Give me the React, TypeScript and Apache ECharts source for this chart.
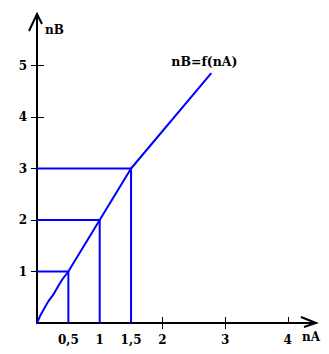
import React, { useEffect, useRef } from "react";
import * as echarts from "echarts";

const xTicks = [0.5, 1, 1.5, 2, 3, 4];
const xTickLabels = ["0,5", "1", "1,5", "2", "3", "4"];
const yTicks = [1, 2, 3, 4, 5];
const curveX = [0, 0.05, 0.12, 0.18, 0.26, 0.33, 0.4, 0.5, 1, 1.5, 2.78];
const curveY = [0, 0.14, 0.29, 0.42, 0.55, 0.7, 0.84, 1, 2, 3, 4.85];
const guidePoints = [
  [0.5, 1],
  [1, 2],
  [1.5, 3],
];
const xMax = 4.45;
const yMax = 6;
const curveName = "nB=f(nA)";

const FONT = "'DejaVu Serif', 'Liberation Serif', serif";
const BLUE = "#0000ff";

export default function App() {
  const ref = useRef<HTMLDivElement>(null);
  useEffect(() => {
    if (!ref.current) return;
    const chart = echarts.init(ref.current, undefined, { renderer: "svg" });
    const guideSeries = guidePoints.map((p) => ({
      type: "line",
      data: [
        [0, p[1]],
        [p[0], p[1]],
        [p[0], 0],
      ],
      symbol: "none",
      lineStyle: { color: BLUE, width: 2 },
      z: 3,
    }));
    chart.setOption({
      animation: false,
      grid: { left: 37, right: 13, top: 14, bottom: 31, containLabel: false },
      xAxis: [
        {
          type: "value",
          min: 0,
          max: xMax,
          splitLine: { show: false },
          axisLine: { show: true, lineStyle: { color: "#000", width: 2 } },
          axisTick: {
            show: true,
            customValues: [2, 3],
            length: 6,
            lineStyle: { color: "#000", width: 1 },
          },
          axisLabel: {
            customValues: xTicks,
            formatter: (v: number) => xTickLabels[xTicks.indexOf(v)] ?? "",
            color: "#000",
            fontFamily: FONT,
            fontWeight: "bold",
            fontSize: 12,
            margin: 11,
          },
          z: 2,
        },
        {
          type: "value",
          min: 0,
          max: xMax,
          position: "bottom",
          splitLine: { show: false },
          axisLine: { show: false },
          axisTick: {
            show: true,
            inside: true,
            customValues: [2, 3, 4],
            length: 6,
            lineStyle: { color: "#000", width: 1 },
          },
          axisLabel: { show: false },
        },
      ],
      yAxis: [
        {
          type: "value",
          min: 0,
          max: yMax,
          splitLine: { show: false },
          axisLine: { show: true, lineStyle: { color: "#000", width: 2 } },
          axisTick: {
            show: true,
            customValues: yTicks,
            length: 6,
            lineStyle: { color: "#000", width: 1 },
          },
          axisLabel: {
            customValues: yTicks,
            color: "#000",
            fontFamily: FONT,
            fontWeight: "bold",
            fontSize: 12,
            margin: 10,
          },
        },
        {
          type: "value",
          min: 0,
          max: yMax,
          position: "left",
          splitLine: { show: false },
          axisLine: { show: false },
          axisTick: {
            show: true,
            inside: true,
            customValues: [4, 5],
            length: 7,
            lineStyle: { color: "#000", width: 1 },
          },
          axisLabel: { show: false },
        },
      ],
      series: [
        {
          type: "line",
          name: curveName,
          data: curveX.map((x, i) => [x, curveY[i]]),
          symbol: "none",
          smooth: false,
          lineStyle: { color: BLUE, width: 2 },
          z: 3,
        },
        ...guideSeries,
      ],
    });

    const px = (x: number, y: number) =>
      chart.convertToPixel({ gridIndex: 0 }, [x, y]) as number[];
    const xEnd = px(xMax, 0);
    const yEnd = px(0, yMax);
    const lbl = px(2.67, 5.07);
    chart.setOption({
      graphic: [
        {
          type: "polyline",
          shape: {
            points: [
              [xEnd[0] - 15, xEnd[1] - 6],
              [xEnd[0], xEnd[1]],
              [xEnd[0] - 12, xEnd[1] + 4],
            ],
          },
          style: { stroke: "#000", lineWidth: 2, fill: "none" },
        },
        {
          type: "polyline",
          shape: {
            points: [
              [yEnd[0] - 8, yEnd[1] + 17],
              [yEnd[0], yEnd[1]],
              [yEnd[0] + 5, yEnd[1] + 10],
            ],
          },
          style: { stroke: "#000", lineWidth: 2, fill: "none" },
        },
        {
          type: "text",
          x: yEnd[0] + 8,
          y: yEnd[1] + 16,
          style: {
            text: "nB",
            fill: "#000",
            font: `bold 12px ${FONT}`,
            textVerticalAlign: "middle",
          },
        },
        {
          type: "text",
          x: xEnd[0] - 14,
          y: xEnd[1] + 14,
          style: {
            text: "nA",
            fill: "#000",
            font: `bold 12px ${FONT}`,
            textVerticalAlign: "middle",
          },
        },
        {
          type: "text",
          x: lbl[0],
          y: lbl[1],
          style: {
            text: curveName,
            fill: "#000",
            font: `bold 12.5px ${FONT}`,
            textAlign: "center",
            textVerticalAlign: "middle",
          },
        },
      ],
    });
    return () => chart.dispose();
  }, []);
  return (
    <div
      ref={ref}
      style={{ position: "absolute", left: 0, top: 0, width: 329, height: 354, background: "#fff" }}
    />
  );
}
